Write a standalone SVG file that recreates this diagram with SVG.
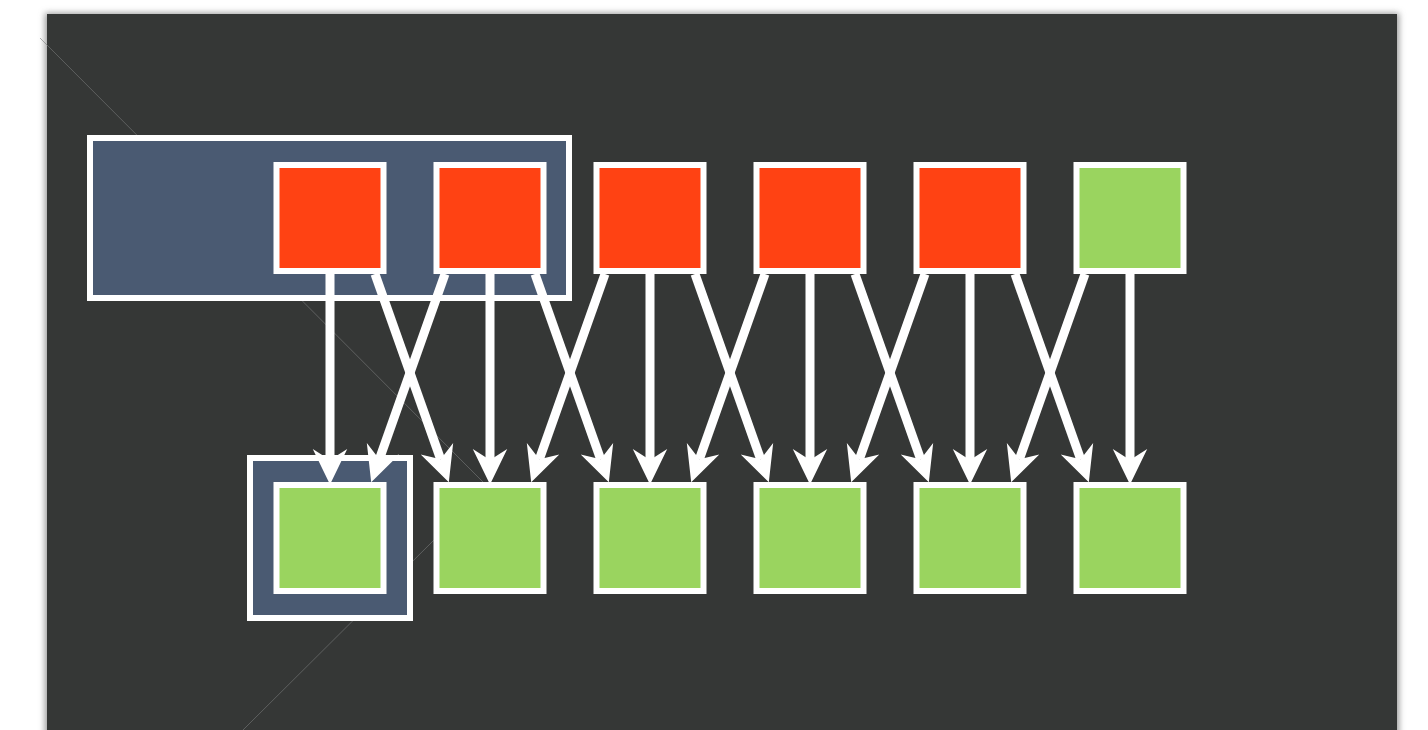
<svg xmlns="http://www.w3.org/2000/svg" width="1428" height="730" viewBox="0 0 1428 730">
<style>
.bg{fill:#ffffff}
.panel{fill:#353736}
.faint{stroke:#7a7c7b;stroke-width:1;opacity:0.6;fill:none}
.group{fill:#4a5a72;stroke:#ffffff;stroke-width:6}
.red{fill:#ff4213;stroke:#ffffff;stroke-width:6}
.green{fill:#9ad45f;stroke:#ffffff;stroke-width:6}
.conn{stroke:#ffffff;stroke-width:9;fill:none;marker-end:url(#head)}
</style>
<defs>
<filter id="sh" x="-5%" y="-5%" width="110%" height="110%">
<feGaussianBlur stdDeviation="3"/>
</filter>
<marker id="head" markerUnits="userSpaceOnUse" markerWidth="40" markerHeight="40" viewBox="-12 -17 36 34" refX="0" refY="0" orient="auto" overflow="visible">
<path d="M22,0 L-10,-15.5 L0,0 L-10,15.5 Z" fill="#ffffff"/>
</marker>
</defs>
<rect class="bg" x="0" y="0" width="1428" height="730"/>
<rect x="45" y="13" width="1354" height="730" fill="#9a9a9a" filter="url(#sh)"/>
<rect class="panel" x="47" y="14" width="1350" height="730"/>
<line class="faint" x1="40" y1="38" x2="483" y2="482"/>
<line class="faint" x1="243" y1="730" x2="437" y2="537"/>
<g id="group-top"><rect class="group" x="90" y="138" width="479" height="160"/></g>
<g id="group-bottom"><rect class="group" x="250" y="458" width="160" height="160"/></g>
<g id="connectors">
<line class="conn" x1="330" y1="272" x2="330" y2="460"/>
<line class="conn" x1="490" y1="272" x2="490" y2="460"/>
<line class="conn" x1="650" y1="272" x2="650" y2="460"/>
<line class="conn" x1="810" y1="272" x2="810" y2="460"/>
<line class="conn" x1="970" y1="272" x2="970" y2="460"/>
<line class="conn" x1="1130" y1="272" x2="1130" y2="460"/>
<line class="conn" x1="375" y1="274" x2="440.65" y2="459.27"/>
<line class="conn" x1="535" y1="274" x2="600.65" y2="459.27"/>
<line class="conn" x1="695" y1="274" x2="760.65" y2="459.27"/>
<line class="conn" x1="855" y1="274" x2="920.65" y2="459.27"/>
<line class="conn" x1="1015" y1="274" x2="1080.65" y2="459.27"/>
<line class="conn" x1="445" y1="274" x2="379.35" y2="459.27"/>
<line class="conn" x1="605" y1="274" x2="539.35" y2="459.27"/>
<line class="conn" x1="765" y1="274" x2="699.35" y2="459.27"/>
<line class="conn" x1="925" y1="274" x2="859.35" y2="459.27"/>
<line class="conn" x1="1085" y1="274" x2="1019.35" y2="459.27"/>
</g>
<g id="top-1"><rect class="red" x="276.5" y="165" width="107" height="106"/></g>
<g id="top-2"><rect class="red" x="436.5" y="165" width="107" height="106"/></g>
<g id="top-3"><rect class="red" x="596.5" y="165" width="107" height="106"/></g>
<g id="top-4"><rect class="red" x="756.5" y="165" width="107" height="106"/></g>
<g id="top-5"><rect class="red" x="916.5" y="165" width="107" height="106"/></g>
<g id="top-6"><rect class="green" x="1076.5" y="165" width="107" height="106"/></g>
<g id="bottom-1"><rect class="green" x="276.5" y="485" width="107" height="106"/></g>
<g id="bottom-2"><rect class="green" x="436.5" y="485" width="107" height="106"/></g>
<g id="bottom-3"><rect class="green" x="596.5" y="485" width="107" height="106"/></g>
<g id="bottom-4"><rect class="green" x="756.5" y="485" width="107" height="106"/></g>
<g id="bottom-5"><rect class="green" x="916.5" y="485" width="107" height="106"/></g>
<g id="bottom-6"><rect class="green" x="1076.5" y="485" width="107" height="106"/></g>
</svg>
